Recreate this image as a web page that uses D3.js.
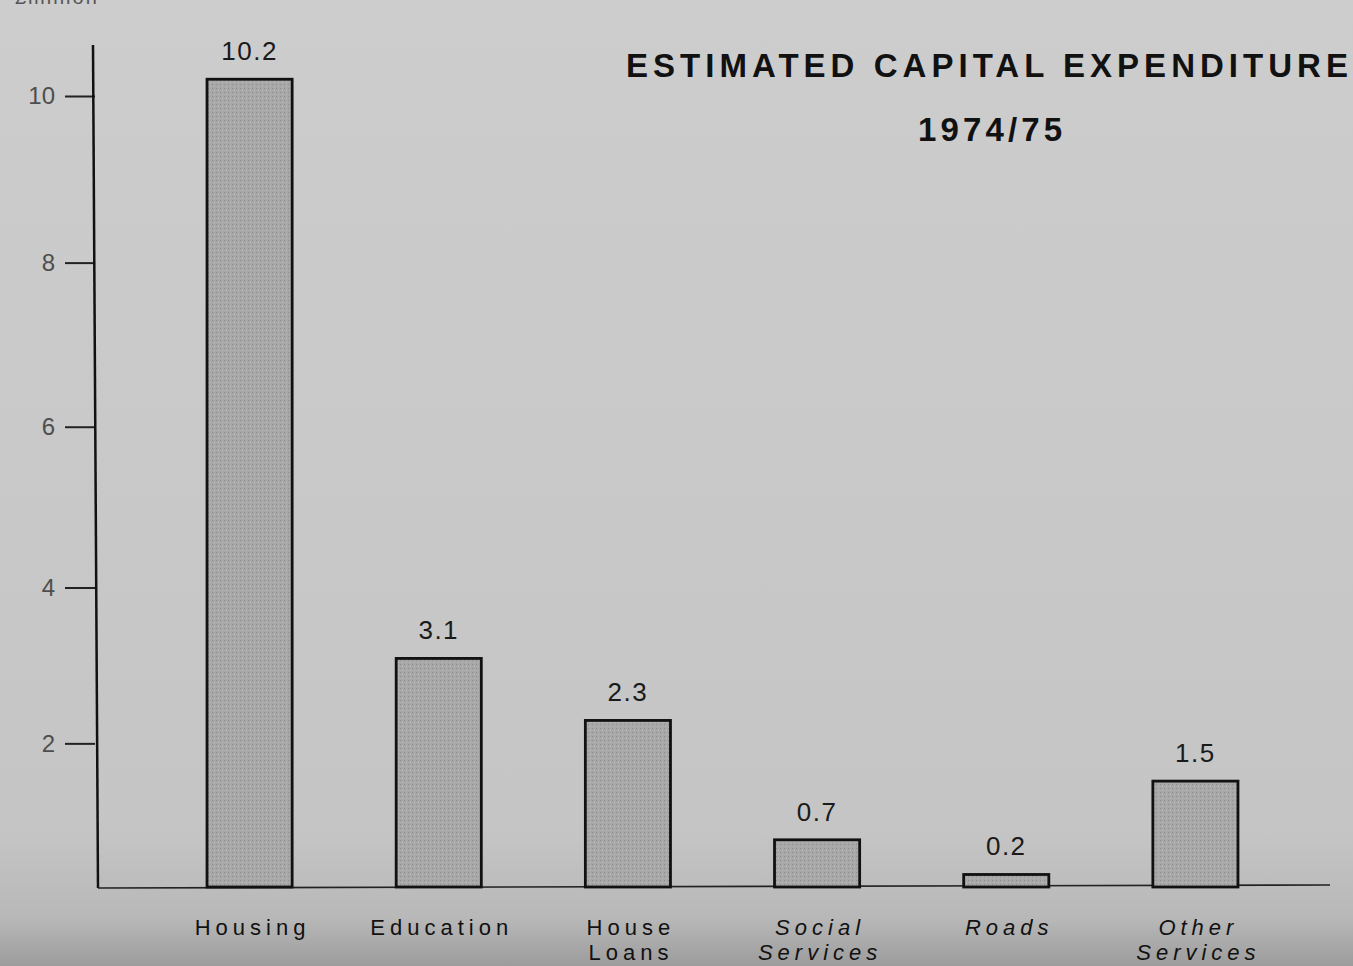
<!DOCTYPE html>
<html>
<head>
<meta charset="utf-8">
<script src="https://cdn.jsdelivr.net/npm/d3@7"></script>
<style>
  html, body { margin: 0; padding: 0; background: #c8c8c8; }
  svg { display: block; }
</style>
</head>
<body>
<svg id="chart" width="1353" height="966"></svg>
<script>
// ---- data ----
const categories = ["Housing", "Education", "House Loans", "Social Services", "Roads", "Other Services"];
const labelLines = [["Housing"], ["Education"], ["House", "Loans"], ["Social", "Services"], ["Roads"], ["Other", "Services"]];
const values = [10.2, 3.1, 2.3, 0.7, 0.2, 1.5];
const valueLabels = ["10.2", "3.1", "2.3", "0.7", "0.2", "1.5"];
const yTicks = [2, 4, 6, 8, 10];
const title = "ESTIMATED CAPITAL EXPENDITURE";
const subtitle = "1974/75";
const unitLabel = "£million";

// ---- setup ----
const svg = d3.select("#chart");
const W = 1353, H = 966;
const baseY = 887;
const sans = "'Liberation Sans', Arial, Helvetica, sans-serif";

const defs = svg.append("defs");
const bg = defs.append("linearGradient").attr("id", "bg").attr("x1", 0).attr("y1", 0).attr("x2", 0).attr("y2", 1);
bg.append("stop").attr("offset", "0%").attr("stop-color", "#cdcdcd");
bg.append("stop").attr("offset", "86%").attr("stop-color", "#c5c5c5");
bg.append("stop").attr("offset", "95%").attr("stop-color", "#b8b8b8");
bg.append("stop").attr("offset", "100%").attr("stop-color", "#9c9c9c");

const pat = defs.append("pattern").attr("id", "dots").attr("width", 4).attr("height", 4)
  .attr("patternUnits", "userSpaceOnUse");
pat.append("rect").attr("width", 4).attr("height", 4).attr("fill", "#a8a8a8");
pat.append("rect").attr("x", 0).attr("y", 0).attr("width", 1).attr("height", 1).attr("fill", "#8e8e8e");
pat.append("rect").attr("x", 2).attr("y", 2).attr("width", 1).attr("height", 1).attr("fill", "#bababa");

svg.append("rect").attr("width", W).attr("height", H).attr("fill", "url(#bg)");

// ---- scales ----
const x = d3.scaleBand().domain(categories).range([155, 1290]).paddingInner(0.55).paddingOuter(0.275);
const y = d3.scalePow().exponent(1.06).domain([0, 10]).range([baseY, 96]);

// ---- y axis ----
const yAxis = d3.axisLeft(y).tickValues(yTicks).tickSize(30).tickPadding(10).tickFormat(d3.format("d"));
const gy = svg.append("g").attr("transform", "translate(95,0)").call(yAxis);
gy.select(".domain").remove();
gy.selectAll(".tick line").attr("stroke", "#222").attr("stroke-width", 2);
gy.selectAll(".tick text")
  .attr("font-family", sans)
  .attr("font-size", 24).attr("fill", "#4e4e4e");
svg.append("line").attr("x1", 93).attr("x2", 98).attr("y1", 45).attr("y2", baseY + 1)
  .attr("stroke", "#111").attr("stroke-width", 2.5);

// baseline
svg.append("line").attr("x1", 98).attr("x2", 1330).attr("y1", baseY + 1).attr("y2", baseY - 2)
  .attr("stroke", "#222").attr("stroke-width", 1.6);

// ---- bars ----
svg.append("g").selectAll("rect").data(values).join("rect")
  .attr("x", (d, i) => x(categories[i]))
  .attr("y", d => y(d))
  .attr("width", x.bandwidth())
  .attr("height", d => baseY - y(d))
  .attr("fill", "url(#dots)")
  .attr("stroke", "#111").attr("stroke-width", 2.8);

// value labels
svg.append("g").selectAll("text").data(values).join("text")
  .attr("x", (d, i) => x(categories[i]) + x.bandwidth() / 2)
  .attr("y", d => y(d) - 19)
  .attr("text-anchor", "middle")
  .attr("font-family", sans)
  .attr("font-size", 26).attr("letter-spacing", 1.5).attr("fill", "#1a1a1a")
  .text((d, i) => valueLabels[i]);

// category labels
const cl = svg.append("g").selectAll("text").data(categories).join("text")
  .attr("x", d => x(d) + x.bandwidth() / 2)
  .attr("y", 935)
  .attr("text-anchor", "middle")
  .attr("font-family", sans)
  .attr("font-size", 22).attr("letter-spacing", 5).attr("fill", "#111")
  .attr("font-style", (d, i) => i >= 3 ? "italic" : "normal");
cl.each(function(d, i) {
  const t = d3.select(this);
  labelLines[i].forEach((ln, j) => {
    t.append("tspan").attr("x", x(d) + x.bandwidth() / 2 + 3).attr("dy", j === 0 ? 0 : 25).text(ln);
  });
});

// title
svg.append("text").attr("x", 987).attr("y", 77).attr("text-anchor", "middle")
  .attr("font-family", sans).attr("font-weight", "bold")
  .attr("font-size", 33).attr("fill", "#111")
  .attr("textLength", 722).attr("lengthAdjust", "spacing")
  .text(title);
svg.append("text").attr("x", 990).attr("y", 141).attr("text-anchor", "middle")
  .attr("font-family", sans).attr("font-weight", "bold")
  .attr("font-size", 33).attr("fill", "#111")
  .attr("textLength", 144).attr("lengthAdjust", "spacing")
  .text(subtitle);

// unit label (cut off at the top edge, as in the scan)
svg.append("text").attr("x", 15).attr("y", 4)
  .attr("font-family", sans)
  .attr("font-size", 20).attr("fill", "#555").attr("letter-spacing", 2)
  .text(unitLabel);
</script>
</body>
</html>
